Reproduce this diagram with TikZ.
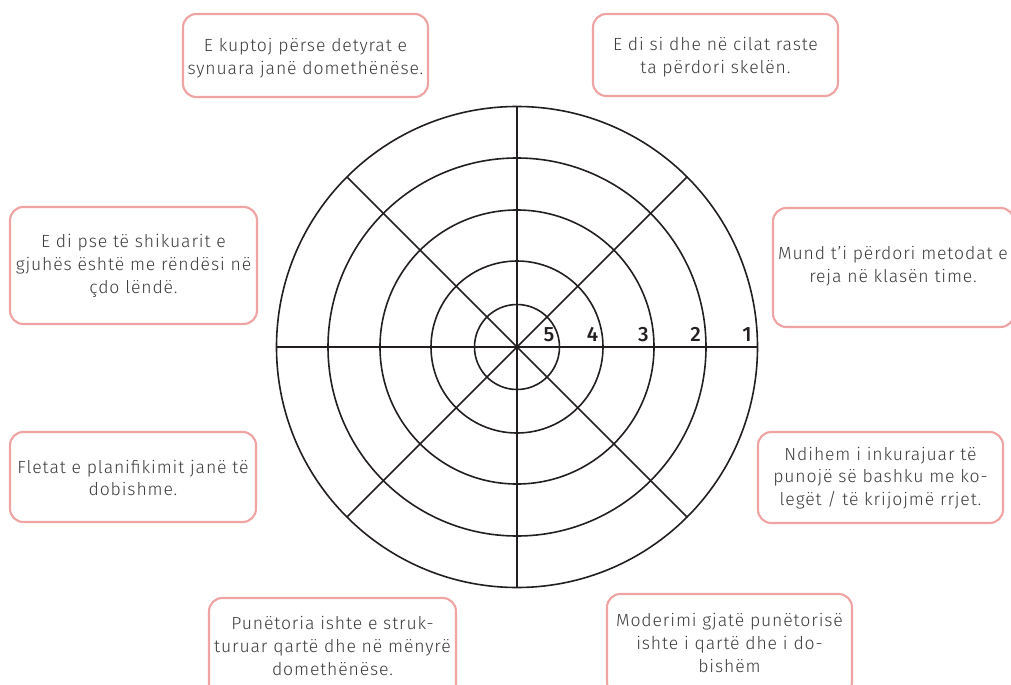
\documentclass[tikz,border=0pt]{standalone}
\usepackage{fontspec}
\setmainfont{Fira Sans}[UprightFont=* Light, BoldFont=* Medium]
\newfontfamily\spacedfont{Fira Sans Light}[LetterSpace=5]

\tikzset{every picture/.style={line width=0.75pt}}
\tikzset{
  wheelline/.style={color={rgb, 255:red, 35; green, 31; blue, 32}, line width=1.2pt},
  statebox/.style={draw={rgb, 255:red, 239; green, 163; blue, 163}, line width=1.6pt, rounded corners=10pt},
  boxtext/.style={align=center, inner sep=0.75pt, text={rgb, 255:red, 60; green, 60; blue, 60}, font=\spacedfont\fontsize{13.2}{17}\selectfont},
  scorelabel/.style={anchor=south, inner sep=0pt, text={rgb, 255:red, 35; green, 31; blue, 32}, font=\fontsize{15.5}{15.5}\bfseries}
}

\begin{document}
\begin{tikzpicture}[x=0.75pt,y=0.75pt,yscale=-1,xscale=1]
\useasboundingbox (0,0) rectangle (1011,685);
\clip (0,0) rectangle (1011,685);

%Shape: Circle [id:wheel]
\foreach \r in {42.5,86,137,189,240.5}
  \draw [wheelline] (517,347) circle [radius=\r];
%Straight Lines [id:spokes]
\draw [wheelline] (517,106.5) -- (517,587.5) ;
\draw [wheelline] (276.5,347) -- (757.5,347) ;
\draw [wheelline] (346.94,176.94) -- (687.06,517.06) ;
\draw [wheelline] (346.94,517.06) -- (687.06,176.94) ;

% Text Node
\foreach \r/\n in {42.5/5,86/4,137/3,189/2,240.5/1}
  \node [scorelabel] (score\n) at (517+\r-10.5,342) {\n};

%Shape: Rectangle [id:boxes]
\draw [statebox] (183,14) rectangle (428,97) ;
\draw [statebox] (593,14) rectangle (838,96) ;
\draw [statebox] (773,208) rectangle (1014,327) ;
\draw [statebox] (10,207) rectangle (257,324) ;
\draw [statebox] (758,432) rectangle (1003,523) ;
\draw [statebox] (10,432) rectangle (256,522) ;
\draw [statebox] (209,598) rectangle (456,702) ;
\draw [statebox] (607,594) rectangle (852,695) ;

% Text Node
\node [boxtext] (purpose) at (305.5,58) {E kuptoj përse detyrat e\\synuara janë domethënëse.};
% Text Node
\node [boxtext] (scaffold) at (715.5,57) {E di si dhe në cilat raste\\ta përdori skelën.};
% Text Node
\node [boxtext] (methods) at (893,266) {Mund t’i përdori metodat e\\reja në klasën time.};
% Text Node
\node [boxtext] (language) at (133.5,266) {E di pse të shikuarit e\\gjuhës është me rëndësi në\\çdo lëndë.};
% Text Node
\node [boxtext] (network) at (880.5,478) {Ndihem i inkurajuar të\\punojë së bashku me ko-\\legët / të krijojmë rrjet.};
% Text Node
\node [boxtext] (sheets) at (133,478) {Fletat e planifikimit janë të\\dobishme.};
% Text Node
\node [boxtext] (workshop) at (332.5,646) {Punëtoria ishte e struk-\\turuar qartë dhe në mënyrë\\domethënëse.};
% Text Node
\node [boxtext] (moderation) at (729.5,643) {Moderimi gjatë punëtorisë\\ishte i qartë dhe i do-\\bishëm};

\end{tikzpicture}
\end{document}
